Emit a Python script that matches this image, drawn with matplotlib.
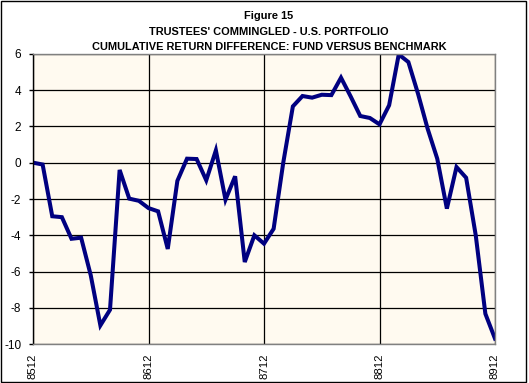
import numpy as np
import matplotlib
matplotlib.use("Agg")
import matplotlib.pyplot as plt
from matplotlib.patches import Rectangle

plt.rcParams["axes.unicode_minus"] = False

# cumulative return difference, monthly, 8512 .. 8912
diff_values = [0.0, -0.1, -2.95, -3.0, -4.19, -4.13, -6.2, -8.96, -8.1, -0.4,
               -1.98, -2.1, -2.5, -2.68, -4.75, -1.0, 0.22, 0.2, -0.97, 0.68,
               -2.04, -0.75, -5.47, -4.0, -4.46, -3.64, 0.0, 3.1, 3.67, 3.58,
               3.74, 3.72, 4.68, 3.65, 2.57, 2.46, 2.11, 3.16, 5.96, 5.54,
               3.8, 1.87, 0.22, -2.53, -0.24, -0.83, -4.0, -8.32, -9.69]
tick_months = [0, 12, 24, 36, 48]
tick_labels = ["8512", "8612", "8712", "8812", "8912"]
y_ticks = [6, 4, 2, 0, -2, -4, -6, -8, -10]

title_lines = ["Figure 15",
               "TRUSTEES' COMMINGLED - U.S. PORTFOLIO",
               "CUMULATIVE RETURN DIFFERENCE: FUND VERSUS BENCHMARK"]

W, H = 529, 383
fig = plt.figure(figsize=(W / 100, H / 100), dpi=100, facecolor="white")

# outer chart frame
fig.patches.append(Rectangle((0.5 / W, 1.0 / H), 525.2 / W, 381.5 / H,
                             transform=fig.transFigure, fill=False,
                             edgecolor="black", linewidth=1.0))

ax = fig.add_axes([33 / W, (H - 344.3) / H, 462 / W, 290.6 / H])
ax.set_facecolor("#FFFAF0")

x = np.arange(len(diff_values))
ax.plot(x, diff_values, color="#000080", linewidth=2.9, solid_joinstyle="miter")

ax.set_xlim(0, 48)
ax.set_ylim(-10, 6)
ax.set_yticks(y_ticks)
ax.set_xticks(tick_months)
ax.set_xticklabels(tick_labels, rotation=90)
ax.grid(True, color="black", linewidth=0.9)
ax.set_axisbelow(True)

for side in ["top", "right", "bottom"]:
    ax.spines[side].set_color("#808080")
    ax.spines[side].set_linewidth(1.0)
ax.spines["left"].set_color("black")
ax.spines["left"].set_linewidth(1.0)

ax.tick_params(axis="y", length=3, width=1, pad=5.5, labelsize=8.5,
               colors="black")
ax.tick_params(axis="x", length=0, pad=6.5, labelsize=8.2)
for lbl in ax.get_xticklabels() + ax.get_yticklabels():
    lbl.set_family(["Liberation Sans", "DejaVu Sans"])

title_y = [16, 32, 47.5]
for txt, ty in zip(title_lines, title_y):
    fig.text(269 / W, 1 - ty / H, txt, ha="center", va="center",
             fontsize=7.9, fontweight="bold",
             family=["Liberation Sans", "DejaVu Sans"])

plt.savefig("out.png", dpi=100, facecolor="white")
